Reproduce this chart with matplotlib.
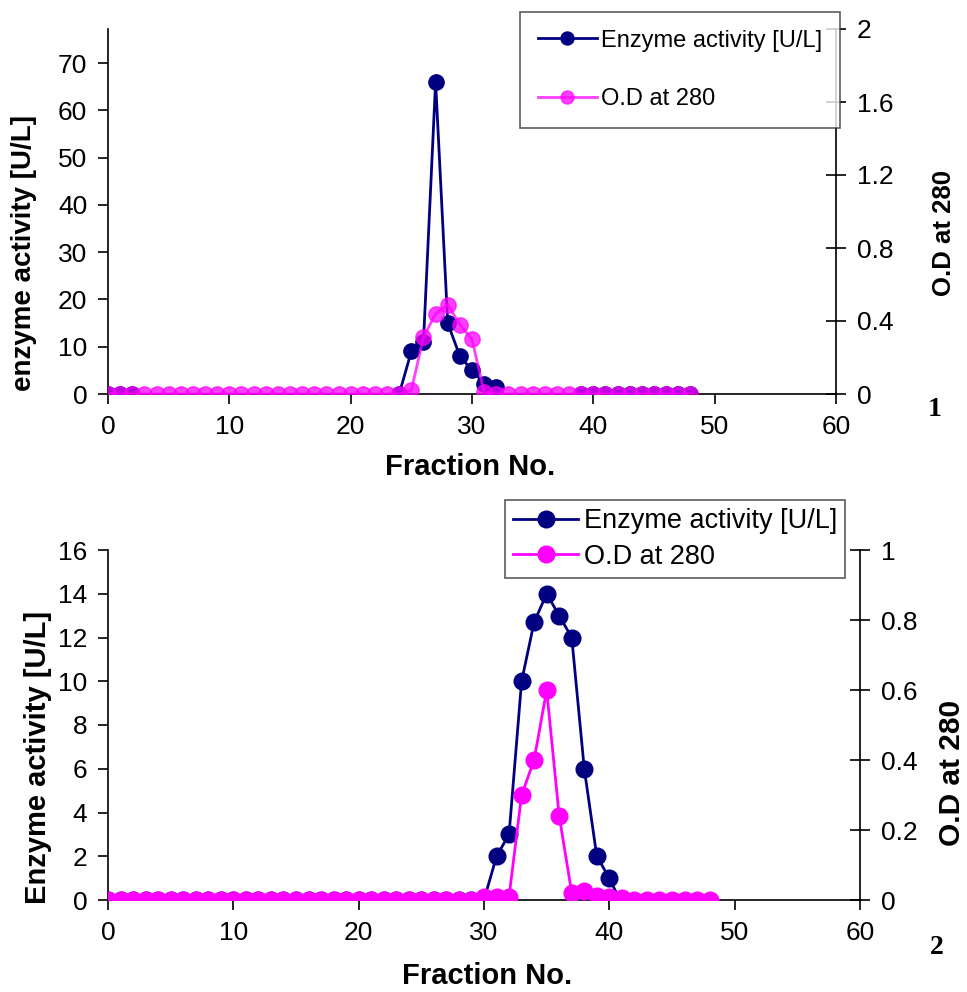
import numpy as np
import matplotlib
matplotlib.use('Agg')
import matplotlib.pyplot as plt

plt.rcParams['font.family'] = ['Liberation Sans', 'DejaVu Sans']

# Panel 1 data (fractions 0..48); nan = no visible point
frac1 = list(range(49))
enzyme1 = ([0, 0, 0] + [np.nan] * 21 +
           [0, 9, 11, 66, 15, 8, 5, 2.2, 1.5] +
           [np.nan] * 6 + [0] * 10)
od1 = ([0] * 25 + [0.02, 0.31, 0.44, 0.49, 0.38, 0.30, 0.01] + [0] * 17)

# Panel 2 data
frac2_enz = list(range(42))
enzyme2 = [0] * 31 + [2, 3, 10, 12.7, 14, 13, 12, 6, 2, 1, -0.2]
frac2_od = list(range(49))
od2 = ([0] * 30 + [0.008, 0.01, 0.01, 0.30, 0.40, 0.60, 0.24, 0.02, 0.025,
                   0.012, 0.01, 0.005] + [0] * 7)

navy = '#000080'
pink = '#ff00ff'
W, H = 967, 992

fig = plt.figure(figsize=(W / 100, H / 100), dpi=100)


def style_axes(ax, ax2, fs_tick):
    ax.spines['top'].set_visible(False)
    ax.spines['right'].set_visible(False)
    ax2.spines['top'].set_visible(False)
    ax2.spines['left'].set_visible(False)
    ax2.spines['bottom'].set_visible(False)
    for a in (ax, ax2):
        for s in a.spines.values():
            s.set_linewidth(1.2)
    ax.tick_params(axis='both', direction='out', length=7, width=1.2,
                   labelsize=fs_tick, pad=8)
    ax2.tick_params(axis='y', direction='inout', length=14, width=1.2,
                    labelsize=fs_tick, pad=8)
    ax.set_xlim(0, 60)
    ax.set_xticks(range(0, 61, 10))


def ftext(x, y, s, **kw):
    # place text by pixel position in the figure
    fig.text(x / W, 1 - y / H, s, ha='center', va='center', **kw)


# ---- Panel 1 ----
ax = fig.add_axes([108 / W, 1 - 394 / H, 728 / W, 365 / H])
ax2 = ax.twinx()
ax.plot(frac1, enzyme1, color=navy, lw=2, marker='o', ms=11,
        label='Enzyme activity [U/L]', zorder=2)
ax.set_ylim(0, 77.2)
ax.set_yticks(range(0, 71, 10))
ax2.plot(frac1, od1, color=pink, lw=2, marker='o', ms=11, alpha=0.75,
         label='O.D at 280')
ax2.set_ylim(0, 2)
ax2.set_yticks([0, 0.4, 0.8, 1.2, 1.6, 2])
ax2.set_yticklabels(['0', '0.4', '0.8', '1.2', '1.6', '2'])
style_axes(ax, ax2, 19)
ftext(470, 467, 'Fraction No.', fontsize=21, fontweight='bold')
ftext(24, 253, 'enzyme activity [U/L]', fontsize=20, fontweight='bold',
      rotation=90)
ftext(944, 233, 'O.D at 280', fontsize=18.5, fontweight='bold', rotation=90)
h1, l1 = ax.get_legend_handles_labels()
h2, l2 = ax2.get_legend_handles_labels()
leg = ax2.legend(h1 + h2, l1 + l2, loc='upper left',
                 bbox_to_anchor=(520 / W, 1 - 12 / H),
                 bbox_transform=fig.transFigure, fontsize=17, frameon=True,
                 fancybox=False, edgecolor='#333333', labelspacing=1.55,
                 handlelength=2.5, handletextpad=0.2, borderpad=0.75,
                 borderaxespad=0, markerscale=0.85)
leg.get_frame().set_linewidth(1.2)
ftext(935, 410, '1', fontsize=20, fontweight='bold', family='Liberation Serif')

# ---- Panel 2 ----
bx = fig.add_axes([108 / W, 1 - 900 / H, 752 / W, 350 / H])
bx2 = bx.twinx()
bx.plot(frac2_enz, enzyme2, color=navy, lw=2, marker='o', ms=12,
        label='Enzyme activity [U/L]')
bx.set_ylim(0, 16)
bx.set_yticks(range(0, 17, 2))
bx2.plot(frac2_od, od2, color=pink, lw=2, marker='o', ms=12,
         label='O.D at 280')
bx2.set_ylim(0, 1)
bx2.set_yticks([0, 0.2, 0.4, 0.6, 0.8, 1])
bx2.set_yticklabels(['0', '0.2', '0.4', '0.6', '0.8', '1'])
style_axes(bx, bx2, 19)
ftext(487, 976, 'Fraction No.', fontsize=21, fontweight='bold')
ftext(38, 757, 'Enzyme activity [U/L]', fontsize=21, fontweight='bold',
      rotation=90)
ftext(952, 773, 'O.D at 280', fontsize=21.5, fontweight='bold', rotation=90)
h1, l1 = bx.get_legend_handles_labels()
h2, l2 = bx2.get_legend_handles_labels()
leg2 = bx2.legend(h1 + h2, l1 + l2, loc='upper left',
                  bbox_to_anchor=(505 / W, 1 - 500 / H),
                  bbox_transform=fig.transFigure, fontsize=19.5, frameon=True,
                  fancybox=False, edgecolor='#333333', labelspacing=0.35,
                  handlelength=2.4, handletextpad=0.2, borderpad=0.3,
                  borderaxespad=0)
leg2.get_frame().set_linewidth(1.2)
ftext(937, 948, '2', fontsize=20, fontweight='bold', family='Liberation Serif')

fig.savefig('out.png', dpi=100)
